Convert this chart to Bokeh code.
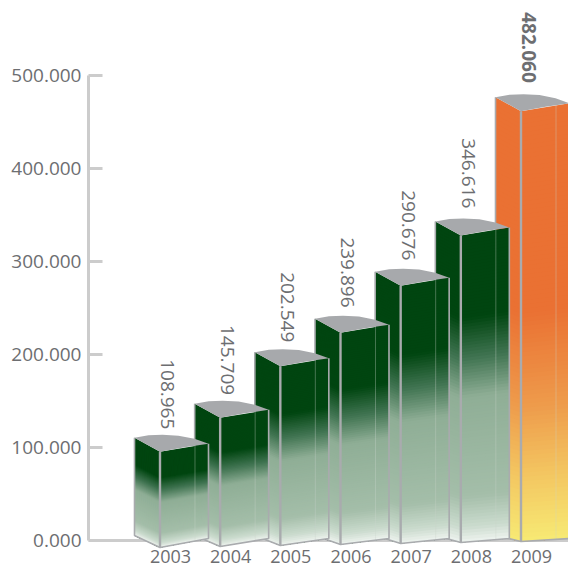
from bokeh.plotting import figure
from bokeh.models import Range1d, FixedTicker
from bokeh.core.properties import value
from bokeh.embed import file_html
from bokeh.resources import INLINE

years = [2003, 2004, 2005, 2006, 2007, 2008, 2009]
values = [108965, 145709, 202549, 239896, 290676, 346616, 482060]
value_labels = ["108.965", "145.709", "202.549", "239.896", "290.676", "346.616", "482.060"]
drawn_heights = [110400, 147000, 202500, 238400, 289000, 343000, 476700]
y_ticks = [0, 100000, 200000, 300000, 400000, 500000]
y_tick_labels = ["0.000", "100.000", "200.000", "300.000", "400.000", "500.000"]

GREEN_STOPS = [(0.0, "#004510"), (0.27, "#004510"), (0.40, "#3f7350"), (0.53, "#8fae96"),
               (0.85, "#a4bea9"), (0.95, "#cbdbce"), (1.0, "#eef3ef")]
ORANGE_STOPS = [(0.0, "#ea7133"), (0.47, "#ea7133"), (0.69, "#ee9c4c"), (0.84, "#f3c460"),
                (1.0, "#f7ea74")]

PX_X = 60.17
PX_Y = 500000 / 465.0
FONT = value("Open Sans")
GREY = "#6d6e71"
EDGE = "#a9abae"
TOP = "#a7a9ac"


def hex2rgb(c):
    return [int(c[i:i + 2], 16) for i in (1, 3, 5)]


def color_at(stops, f):
    for (a, ca), (b, cb) in zip(stops, stops[1:]):
        if f <= b:
            t = (f - a) / (b - a) if b > a else 0
            ra, rb = hex2rgb(ca), hex2rgb(cb)
            return "#%02x%02x%02x" % tuple(round(u + (w - u) * t) for u, w in zip(ra, rb))
    return stops[-1][1]


def face(p, tl, tr, br, bl, stops, n=100):
    xs, ys, cs = [], [], []
    for k in range(n):
        f = k / n
        lx, ly = tl[0] + f * (bl[0] - tl[0]), tl[1] + f * (bl[1] - tl[1])
        rx, ry = tr[0] + f * (br[0] - tr[0]), tr[1] + f * (br[1] - tr[1])
        xs.append([lx, rx, br[0], bl[0]])
        ys.append([ly, ry, br[1], bl[1]])
        cs.append(color_at(stops, (k + 0.5) / n))
    p.patches(xs, ys, fill_color=cs, line_color=None)


p = figure(width=568, height=564, output_backend="svg", toolbar_location=None,
           x_range=Range1d(2003 - 82 / PX_X, 2009 + 37 / PX_X),
           y_range=Range1d(-24 * PX_Y, 540 * PX_Y),
           min_border_left=88, min_border_right=0, min_border_top=0, min_border_bottom=0)
p.outline_line_color = None
p.grid.visible = False

xa = p.xaxis[0]
xa.fixed_location = 0
xa.level = "underlay"
xa.ticker = FixedTicker(ticks=years)
xa.major_label_overrides = {y: str(y) for y in years}
xa.axis_line_color = "#cccccc"
xa.axis_line_width = 3
xa.major_tick_line_color = None
xa.minor_tick_line_color = None
xa.major_label_standoff = 3
xa.major_label_text_font = "Open Sans"
xa.major_label_text_font_size = "18px"
xa.major_label_text_color = GREY

ya = p.yaxis[0]
ya.ticker = FixedTicker(ticks=y_ticks)
ya.major_label_overrides = dict(zip(y_ticks, y_tick_labels))
ya.bounds = (0, 500000)
ya.axis_line_color = "#cccccc"
ya.axis_line_width = 3
ya.major_tick_line_color = "#cccccc"
ya.major_tick_line_width = 3
ya.major_tick_in = 14
ya.major_tick_out = 0
ya.minor_tick_line_color = None
ya.major_label_standoff = 7
ya.major_label_text_font = "Open Sans"
ya.major_label_text_font_size = "19px"
ya.major_label_text_color = GREY

for i in range(len(years) - 1, -1, -1):
    yr, h = years[i], drawn_heights[i]
    stops = ORANGE_STOPS if yr == 2009 else GREEN_STOPS
    X = lambda px: yr + (px - 36) / PX_X
    Y = lambda py: h - py * PX_Y
    B = lambda py: -py * PX_Y
    fb = 7 - i
    # corners: back-left, front, right
    tb, tf, tr = (X(0), Y(0)), (X(25.5), Y(14)), (X(74), Y(6))
    bb, bf, br = (X(0), B(-5)), (X(25.5), B(fb)), (X(74), B(-2))
    face(p, tb, tf, bf, bb, stops)
    face(p, tf, tr, br, bf, stops)
    arc = [(0, 0), (14, -2.5), (28, -3), (44, -2.2), (60, 1), (74, 6), (50, 9.5), (25.5, 14)]
    p.patch([X(a) for a, _ in arc], [Y(b) for _, b in arc], fill_color=TOP, line_color=None)
    p.line([X(60.5), X(60.5)], [Y(8), B(0)], line_color="#c9d3cc", line_alpha=0.35, line_width=1)
    p.multi_line([[tb[0], bb[0], bf[0], br[0], tr[0]], [tf[0], bf[0]]],
                 [[tb[1], bb[1], bf[1], br[1], tr[1]], [tf[1], bf[1]]],
                 line_color=[EDGE, EDGE], line_width=[1.6, 2.4])

for i, yr in enumerate(years):
    p.text([yr - 3 / PX_X], [values[i] + 80 * PX_Y], text=[value_labels[i]], angle=-1.5708,
           text_align="left", text_baseline="middle", text_font=FONT, text_font_size="19px",
           text_color=GREY, text_font_style="bold" if yr == 2009 else "normal")

open("out.html", "w").write(file_html(p, INLINE))
